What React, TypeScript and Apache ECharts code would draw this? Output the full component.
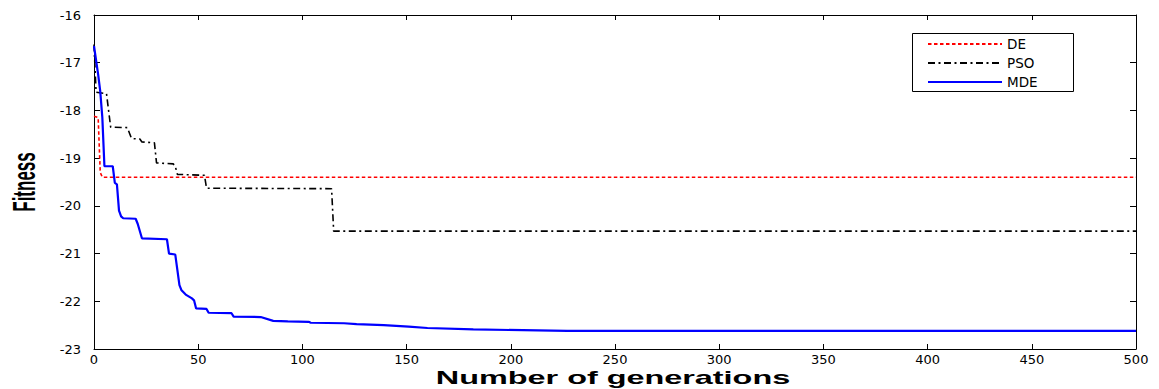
import React, { useEffect, useRef } from "react";
import * as echarts from "echarts";

// ---- data ----
const X_TICKS = [0, 50, 100, 150, 200, 250, 300, 350, 400, 450, 500];
const Y_TICKS = [-23, -22, -21, -20, -19, -18, -17, -16];

const SERIES_NAMES = ["DE", "PSO", "MDE"];

const deGen = [0, 2, 3, 4, 500];
const deFit = [-18.12, -18.15, -19.3, -19.4, -19.4];

const psoGen = [0, 1, 6, 8, 16, 18, 22, 23, 29, 30, 38, 39, 40, 53, 54, 114, 115, 500];
const psoFit = [
  -16.62, -17.62, -17.65, -18.35, -18.36, -18.59, -18.6, -18.66, -18.68, -19.1,
  -19.12, -19.17, -19.34, -19.36, -19.63, -19.64, -20.53, -20.53,
];

const mdeGen = [
  0, 2, 3, 4, 5, 9, 10, 11, 12, 13, 14, 20, 21, 23, 35, 36, 39, 41, 42, 44, 47, 48,
  49, 54, 55, 66, 67, 80, 86, 93, 103, 104, 120, 126, 139, 151, 160, 182, 227, 500,
];
const mdeFit = [
  -16.65, -17.25, -17.6, -18.15, -19.17, -19.17, -19.52, -19.55, -20.1, -20.22,
  -20.26, -20.27, -20.38, -20.68, -20.7, -21.0, -21.02, -21.66, -21.77, -21.86,
  -21.94, -21.98, -22.15, -22.16, -22.24, -22.25, -22.32, -22.33, -22.41, -22.42,
  -22.43, -22.45, -22.46, -22.48, -22.5, -22.53, -22.56, -22.59, -22.62, -22.62,
];

const pairs = (g: number[], v: number[]) => g.map((x, i) => [x, v[i]]);

export default function App() {
  const ref = useRef<HTMLDivElement>(null);

  useEffect(() => {
    if (!ref.current) return;
    const chart = echarts.init(ref.current, undefined, { renderer: "svg" });

    const xMin = X_TICKS[0];
    const xMax = X_TICKS[X_TICKS.length - 1];
    const xInt = X_TICKS[1] - X_TICKS[0];
    const yMin = Y_TICKS[0];
    const yMax = Y_TICKS[Y_TICKS.length - 1];
    const yInt = Y_TICKS[1] - Y_TICKS[0];

    const axisLine = { show: true, onZero: false, lineStyle: { color: "#000", width: 1 } };
    const labelFont = { fontFamily: "DejaVu Sans", fontSize: 13, color: "#000" };

    const xBase = {
      type: "value" as const,
      min: xMin,
      max: xMax,
      interval: xInt,
      splitLine: { show: false },
      axisLine,
      axisTick: { show: true, inside: true, length: 5, lineStyle: { color: "#000" } },
    };
    const yBase = {
      type: "value" as const,
      min: yMin,
      max: yMax,
      interval: yInt,
      splitLine: { show: false },
      axisLine,
      axisTick: { show: true, inside: true, length: 6, lineStyle: { color: "#000" } },
    };

    chart.setOption({
      animation: false,
      backgroundColor: "#fff",
      grid: { left: 94, right: 23, top: 15, bottom: 40, containLabel: false },
      xAxis: [
        { ...xBase, position: "bottom", axisLabel: { ...labelFont, margin: 4 } },
        { ...xBase, position: "top", axisLabel: { show: false } },
      ],
      yAxis: [
        { ...yBase, position: "left", axisLabel: { ...labelFont, margin: 13 } },
        { ...yBase, position: "right", axisLabel: { show: false } },
      ],
      legend: {
        orient: "vertical",
        left: 927,
        top: 37,
        padding: 0,
        itemWidth: 74,
        itemHeight: 14,
        itemGap: 5,
        data: SERIES_NAMES,
        itemStyle: { opacity: 0, borderWidth: 0 },
        textStyle: { fontFamily: "DejaVu Sans", fontSize: 13.5, color: "#000" },
      },
      graphic: [
        {
          type: "rect",
          z: 3,
          shape: { x: 912.5, y: 33.5, width: 161, height: 58 },
          style: { fill: "#fff", stroke: "#000", lineWidth: 1 },
        },
        {
          type: "text",
          x: 24,
          y: 182,
          rotation: Math.PI / 2,
          scaleY: 1.8,
          style: {
            text: "Fitness",
            font: 'bold 17px "Liberation Sans"',
            fill: "#000",
            textAlign: "center",
            textVerticalAlign: "middle",
          },
        },
        {
          type: "text",
          x: 613,
          y: 378,
          scaleX: 1.8,
          style: {
            text: "Number of generations",
            font: 'bold 18px "Liberation Sans"',
            fill: "#000",
            textAlign: "center",
            textVerticalAlign: "middle",
          },
        },
      ],
      series: [
        {
          name: SERIES_NAMES[0],
          type: "line",
          data: pairs(deGen, deFit),
          symbol: "none",
          color: "#ff0000",
          lineStyle: { color: "#ff0000", width: 1.6, type: [3.5, 2.5] },
        },
        {
          name: SERIES_NAMES[1],
          type: "line",
          data: pairs(psoGen, psoFit),
          symbol: "none",
          color: "#000000",
          lineStyle: { color: "#000000", width: 1.6, type: [7, 3.5, 2, 3.5] },
        },
        {
          name: SERIES_NAMES[2],
          type: "line",
          data: pairs(mdeGen, mdeFit),
          symbol: "none",
          color: "#0000ff",
          lineStyle: { color: "#0000ff", width: 2.2, type: "solid" },
        },
      ],
    });

    return () => chart.dispose();
  }, []);

  return (
    <div
      ref={ref}
      style={{ position: "fixed", left: 0, top: 0, width: 1159, height: 389, background: "#fff" }}
    />
  );
}
